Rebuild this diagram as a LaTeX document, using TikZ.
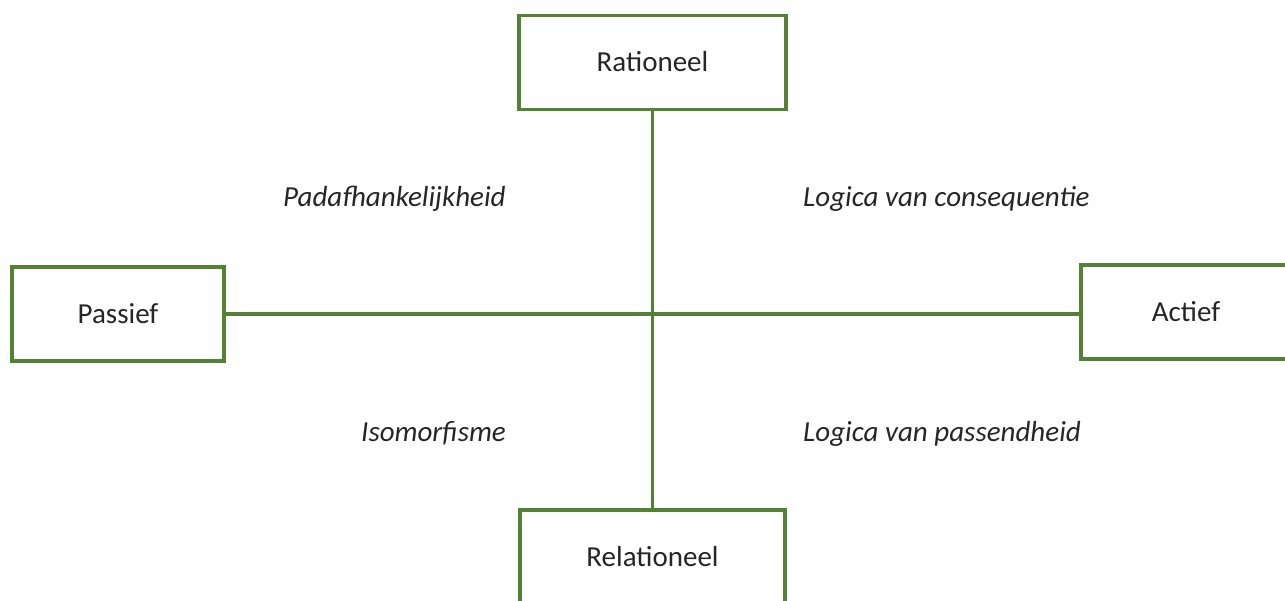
\documentclass[tikz,border=0pt]{standalone}
\usepackage{fontspec}
\setmainfont{Carlito}
\definecolor{boxgreen}{HTML}{548235}
\definecolor{txt}{HTML}{262626}
\begin{document}
\begin{tikzpicture}[x=1pt,y=-1pt,
  box/.style={draw=boxgreen,line width=3.6pt,fill=white,rectangle,inner sep=0pt,
    text=txt,font=\fontsize{29}{35}\selectfont,text height=18.5pt,text depth=0pt},
  lab/.style={anchor=base west,inner sep=0pt,text=txt,font=\fontsize{29}{35}\selectfont\itshape},
  conn/.style={draw=boxgreen,line width=3.6pt}]
\useasboundingbox (0,0) rectangle (1285,601);
\node[box,minimum width=267pt,minimum height=94pt] (rat) at (652.5,62.5) {Rationeel};
\node[box,minimum width=212.5pt,minimum height=94.5pt] (pas) at (118,314) {Passief};
\node[box,minimum width=210pt,minimum height=93.5pt] (act) at (1186,312) {Actief};
\node[box,minimum width=265.5pt,minimum height=94pt] (rel) at (652.5,556.75) {Relationeel};
\draw[conn] (rat.south) -- (rel.north);
\draw[conn] (pas.east) -- (pas.east -| act.west);
\node[lab] (l1) at (283,207) {Padafhankelijkheid};
\node[lab] (l2) at (803,207) {Logica van consequentie};
\node[lab] (l3) at (361,441) {Isomorfisme};
\node[lab] (l4) at (803,441) {Logica van passendheid};
\end{tikzpicture}
\end{document}
